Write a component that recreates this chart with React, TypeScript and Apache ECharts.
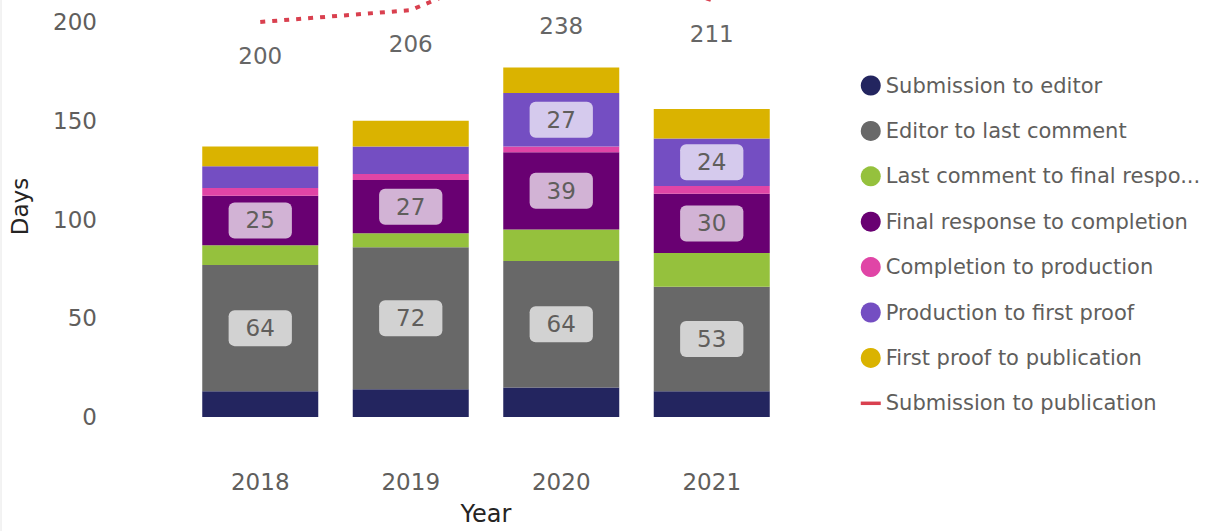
import React, { useEffect, useRef } from "react";
import * as echarts from "echarts";

const years = ["2018", "2019", "2020", "2021"];
const submissionToEditor = [13, 14, 15, 13];
const editorToLastComment = [64, 72, 64, 53];
const lastCommentToFinalResponse = [10, 7, 16, 17];
const finalResponseToCompletion = [25, 27, 39, 30];
const completionToProduction = [4, 3, 3, 4];
const productionToFirstProof = [11, 14, 27, 24];
const firstProofToPublication = [10, 13, 13, 15];
const submissionToPublication = [200, 206, 238, 211];

const yMin = 0;
const yMax = 200;
const yInterval = 50;

const FONT = "DejaVu Sans";
const AXIS_TEXT = "#605E5C";

export default function App() {
  const ref = useRef<HTMLDivElement>(null);

  useEffect(() => {
    if (!ref.current) return;
    const chart = echarts.init(ref.current, undefined, { renderer: "svg" });

    const boxLabel = {
      show: true,
      position: "inside",
      fontSize: 23,
      fontFamily: FONT,
      color: "#605E5C",
      backgroundColor: "rgba(255,255,255,0.7)",
      borderRadius: 6,
      padding: [7, 17, 6, 17],
    };

    const barSeries = (name: string, data: any[], color: string, label?: any) => ({
      name,
      type: "bar",
      stack: "total",
      barWidth: 116,
      data,
      itemStyle: { color },
      label: label || { show: false },
      emphasis: { disabled: true },
    });

    const option: any = {
      animation: false,
      textStyle: { fontFamily: FONT },
      grid: { left: 184, top: 22, width: 603, height: 400 },
      xAxis: {
        type: "category",
        data: years,
        axisLine: { show: false },
        axisTick: { show: false },
        axisLabel: { fontSize: 23, color: AXIS_TEXT, margin: 53, fontFamily: FONT },
        name: "Year",
        nameLocation: "middle",
        nameGap: 85,
        nameTextStyle: { fontSize: 24, color: "#252423", fontFamily: FONT },
      },
      yAxis: {
        type: "value",
        min: yMin,
        max: yMax,
        interval: yInterval,
        splitLine: { show: false },
        axisLine: { show: false },
        axisTick: { show: false },
        axisLabel: { fontSize: 23, color: AXIS_TEXT, margin: 88, fontFamily: FONT },
        name: "Days",
        nameLocation: "middle",
        nameGap: 154,
        nameTextStyle: {
          fontSize: 23,
          color: "#252423",
          fontFamily: FONT,
          padding: [0, 0, 0, 26],
        },
      },
      legend: {
        orient: "vertical",
        left: 859,
        top: 75,
        padding: 0,
        itemWidth: 20,
        itemHeight: 20,
        itemGap: 24.4,
        textStyle: {
          fontSize: 21,
          lineHeight: 21,
          color: AXIS_TEXT,
          fontFamily: FONT,
          width: 320,
          overflow: "truncate",
          ellipsis: "...",
        },
        data: [
          { name: "Submission to editor", icon: "circle" },
          { name: "Editor to last comment", icon: "circle" },
          { name: "Last comment to final response", icon: "circle" },
          { name: "Final response to completion", icon: "circle" },
          { name: "Completion to production", icon: "circle" },
          { name: "Production to first proof", icon: "circle" },
          { name: "First proof to publication", icon: "circle" },
          {
            name: "Submission to publication",
            lineStyle: { type: "solid", width: 3.5, color: "#D9404F" },
            itemStyle: { color: "rgba(0,0,0,0)", opacity: 0 },
          },
        ],
      },
      series: [
        barSeries("Submission to editor", submissionToEditor, "#23255F"),
        barSeries("Editor to last comment", editorToLastComment, "#686868", boxLabel),
        barSeries("Last comment to final response", lastCommentToFinalResponse, "#95C13D"),
        barSeries("Final response to completion", finalResponseToCompletion, "#690072", boxLabel),
        barSeries("Completion to production", completionToProduction, "#E045A6"),
        barSeries(
          "Production to first proof",
          productionToFirstProof.map((v) => ({ value: v, label: { show: v >= 20 } })),
          "#744EC2",
          { ...boxLabel }
        ),
        barSeries("First proof to publication", firstProofToPublication, "#DAB300"),
        {
          name: "Submission to publication",
          type: "line",
          data: submissionToPublication,
          clip: false,
          symbol: "circle",
          symbolSize: 1,
          showSymbol: true,
          itemStyle: { color: "rgba(0,0,0,0)" },
          lineStyle: { color: "#D9404F", width: 4, type: [5, 7] },
          emphasis: { disabled: true },
          label: {
            show: true,
            position: "bottom",
            distance: 21.5,
            fontSize: 23,
            fontFamily: FONT,
            color: "#666666",
          },
          labelLayout: (p: any) => {
            const minTop = 14.5;
            return p.labelRect.y < minTop ? { dy: minTop - p.labelRect.y } : {};
          },
          z: 5,
        },
      ],
      graphic: [
        {
          type: "line",
          shape: { x1: 1, y1: 0, x2: 1, y2: 531 },
          style: { stroke: "#E6E6E6", lineWidth: 1 },
        },
      ],
    };

    chart.setOption(option);
    return () => chart.dispose();
  }, []);

  return (
    <div
      ref={ref}
      style={{ position: "fixed", left: 0, top: 0, width: 1205, height: 531, background: "#fff" }}
    />
  );
}
